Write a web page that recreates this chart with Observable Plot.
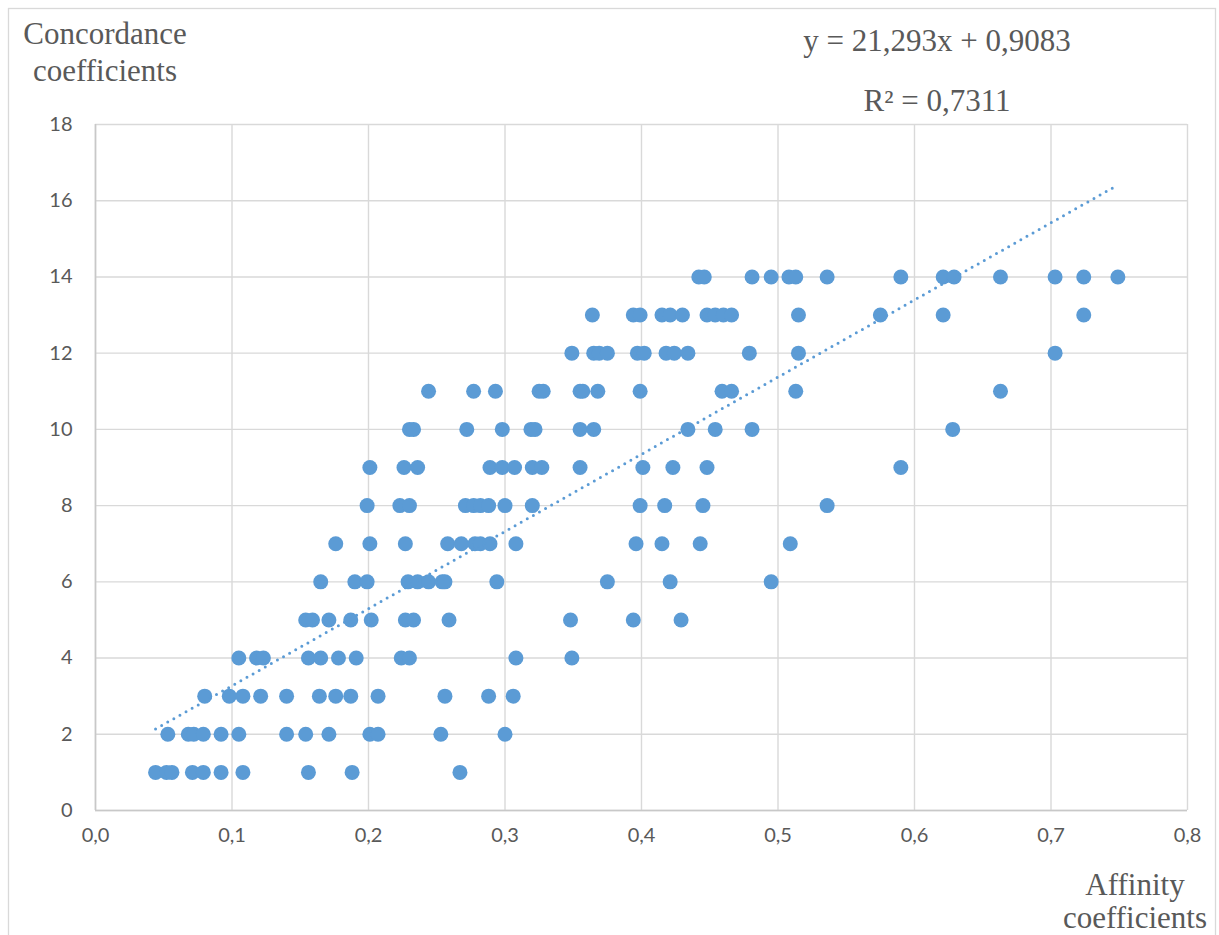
<!DOCTYPE html>
<html>
<head>
<meta charset="utf-8">
<script src="https://cdn.jsdelivr.net/npm/d3@7"></script>
<script src="https://cdn.jsdelivr.net/npm/@observablehq/plot@0.6"></script>
<style>
  html, body { margin: 0; padding: 0; background: #fff; overflow: hidden; }
  #chart { width: 1219px; height: 935px; }
</style>
</head>
<body>
<div id="chart"></div>
<script>
// Affinity coefficients (x) and concordance coefficients (y), listed by concordance level
const affinity = [
  0.044, 0.052, 0.056, 0.071, 0.079, 0.092, 0.108, 0.156, 0.188, 0.267,                    // 1
  0.053, 0.068, 0.072, 0.079, 0.092, 0.105, 0.140, 0.154, 0.171, 0.201, 0.207, 0.253, 0.300, // 2
  0.080, 0.098, 0.108, 0.121, 0.140, 0.164, 0.176, 0.187, 0.207, 0.256, 0.288, 0.306,     // 3
  0.105, 0.118, 0.123, 0.156, 0.165, 0.178, 0.191, 0.224, 0.230, 0.308, 0.349,            // 4
  0.154, 0.159, 0.171, 0.187, 0.202, 0.227, 0.233, 0.259, 0.348, 0.394, 0.429,            // 5
  0.165, 0.190, 0.199, 0.229, 0.236, 0.244, 0.254, 0.256, 0.294, 0.375, 0.421, 0.495,     // 6
  0.176, 0.201, 0.227, 0.258, 0.268, 0.278, 0.282, 0.289, 0.308, 0.396, 0.415, 0.443, 0.509, // 7
  0.199, 0.223, 0.230, 0.271, 0.277, 0.282, 0.288, 0.300, 0.320, 0.399, 0.417, 0.445, 0.536, // 8
  0.201, 0.226, 0.236, 0.289, 0.298, 0.307, 0.320, 0.327, 0.355, 0.401, 0.423, 0.448, 0.590, // 9
  0.230, 0.233, 0.272, 0.298, 0.319, 0.322, 0.355, 0.365, 0.434, 0.454, 0.481, 0.628,     // 10
  0.244, 0.277, 0.293, 0.325, 0.328, 0.355, 0.357, 0.368, 0.399, 0.459, 0.466, 0.513, 0.663, // 11
  0.349, 0.365, 0.369, 0.375, 0.397, 0.402, 0.418, 0.424, 0.434, 0.479, 0.515, 0.703,     // 12
  0.364, 0.394, 0.399, 0.415, 0.421, 0.430, 0.448, 0.454, 0.460, 0.466, 0.515, 0.575, 0.621, 0.724, // 13
  0.442, 0.446, 0.481, 0.495, 0.508, 0.513, 0.536, 0.590, 0.621, 0.629, 0.663, 0.703, 0.724, 0.749  // 14
];
const concordance = [
  1,1,1,1,1,1,1,1,1,1,
  2,2,2,2,2,2,2,2,2,2,2,2,2,
  3,3,3,3,3,3,3,3,3,3,3,3,
  4,4,4,4,4,4,4,4,4,4,4,
  5,5,5,5,5,5,5,5,5,5,5,
  6,6,6,6,6,6,6,6,6,6,6,6,
  7,7,7,7,7,7,7,7,7,7,7,7,7,
  8,8,8,8,8,8,8,8,8,8,8,8,8,
  9,9,9,9,9,9,9,9,9,9,9,9,9,
  10,10,10,10,10,10,10,10,10,10,10,10,
  11,11,11,11,11,11,11,11,11,11,11,11,11,
  12,12,12,12,12,12,12,12,12,12,12,12,
  13,13,13,13,13,13,13,13,13,13,13,13,13,13,
  14,14,14,14,14,14,14,14,14,14,14,14,14,14
];
const xTicks = [0, 0.1, 0.2, 0.3, 0.4, 0.5, 0.6, 0.7, 0.8];
const yTicks = [0, 2, 4, 6, 8, 10, 12, 14, 16, 18];
const yAxisTitle = ["Concordance", "coefficients"];
const xAxisTitle = ["Affinity", "coefficients"];
const equationText = ["y = 21,293x + 0,9083", "R² = 0,7311"];

const data = affinity.map((a, i) => ({affinity: a, concordance: concordance[i]}));
const fmtX = d => d.toFixed(1).replace(".", ",");

const blue = "#5B9BD5";
const grid = "#d9d9d9";
const textColor = "#595959";
const sans = "Lato, 'Open Sans', sans-serif";

const svg = Plot.plot({
  width: 1219,
  height: 935,
  marginLeft: 95,
  marginRight: 32,
  marginTop: 124,
  marginBottom: 125,
  style: {fontFamily: sans, color: textColor, background: "white", overflow: "visible"},
  x: {domain: [0, 0.8], axis: null},
  y: {domain: [0, 18], axis: null},
  marks: [
    Plot.gridX(xTicks, {stroke: grid, strokeOpacity: 1, strokeWidth: 1.4}),
    Plot.gridY(yTicks, {stroke: grid, strokeOpacity: 1, strokeWidth: 1.4}),
    Plot.ruleX([0], {stroke: "#c8c8c8", strokeWidth: 1.6}),
    Plot.ruleY([0], {stroke: "#c8c8c8", strokeWidth: 1.6}),
    // tick labels
    Plot.text(xTicks, {x: d => d, text: fmtX, frameAnchor: "bottom", dy: 31, fontSize: 20, fontFamily: sans, fill: textColor}),
    Plot.text(yTicks, {y: d => d, text: d => String(d), frameAnchor: "left", dx: -23, textAnchor: "end", fontSize: 20, fontFamily: sans, fill: textColor}),
    Plot.dot(data, {x: "affinity", y: "concordance", r: 7.5, fill: blue, stroke: null}),
    Plot.linearRegressionY(data, {x: "affinity", y: "concordance", ci: 0, stroke: blue, strokeWidth: 3, strokeDasharray: "0 7", strokeLinecap: "round"})
  ]
});

const s = d3.select(svg);
// outer chart-area border
s.append("rect").attr("x", 8.5).attr("y", 8.5).attr("width", 1207).attr("height", 960)
  .attr("fill", "none").attr("stroke", grid).attr("stroke-width", 1.3);

const serif = "'Liberation Serif', 'Times New Roman', serif";
function addLines(lines, cx, baselines) {
  lines.forEach((t, i) => {
    s.append("text").attr("x", cx).attr("y", baselines[i])
      .attr("text-anchor", "middle").attr("font-family", serif).attr("font-size", 31)
      .attr("fill", textColor).text(t);
  });
}
addLines(yAxisTitle, 105, [44, 81]);
addLines(equationText, 937, [51, 111]);
addLines(xAxisTitle, 1135, [895, 928]);

document.getElementById("chart").appendChild(svg);
</script>
</body>
</html>
